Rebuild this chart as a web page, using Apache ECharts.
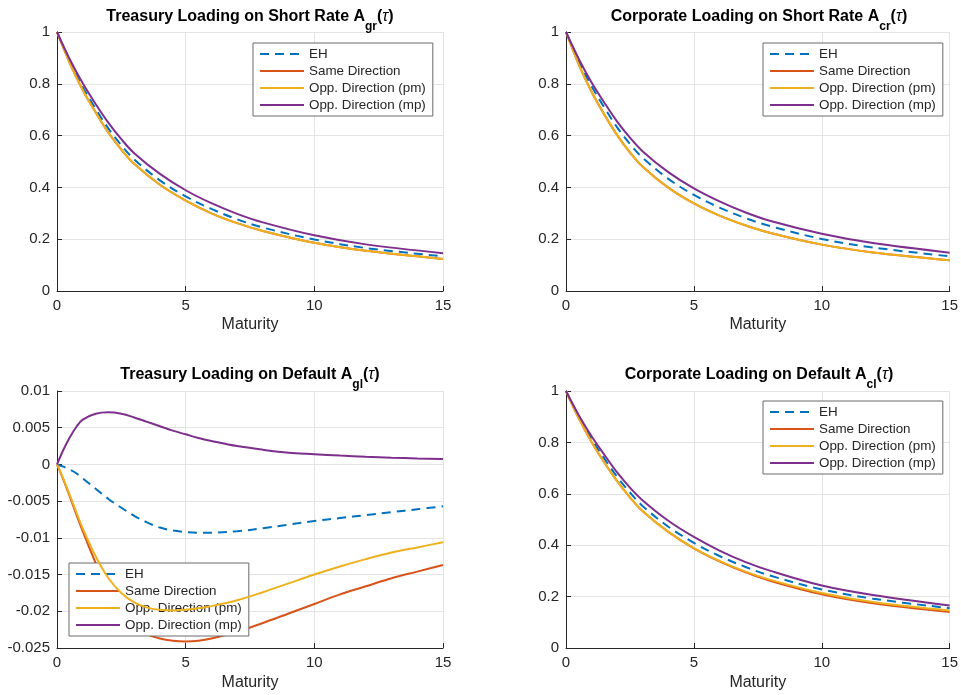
<!DOCTYPE html>
<html>
<head>
<meta charset="utf-8">
<script src="https://cdn.jsdelivr.net/npm/echarts@6/dist/echarts.min.js"></script>
<style>
  html, body { margin: 0; padding: 0; background: #ffffff; }
  #chart { width: 961px; height: 695px; }
</style>
</head>
<body>
<div id="chart"></div>
<script>
// Maturity grids (years)
const tauShort = [0, 0.5, 1, 1.5, 2, 2.5, 3, 4, 5, 6, 7, 8, 10, 12, 15];
const tauDefault = [0, 0.25, 0.5, 0.75, 1, 1.5, 2, 2.5, 3, 3.5, 4, 4.5, 5, 5.5, 6, 7, 8, 9, 10, 11, 12, 13, 14, 15];

const seriesNames = ['EH', 'Same Direction', 'Opp. Direction (pm)', 'Opp. Direction (mp)'];

// Treasury loading on short rate A_gr
const grEH   = [1, 0.885, 0.787, 0.704, 0.627, 0.563, 0.508, 0.427, 0.365, 0.317, 0.277, 0.245, 0.199, 0.166, 0.134];
const grSame = [1, 0.879, 0.776, 0.69, 0.611, 0.546, 0.491, 0.41, 0.349, 0.3, 0.262, 0.232, 0.186, 0.155, 0.124];
const grPm   = [1, 0.879, 0.776, 0.69, 0.611, 0.546, 0.491, 0.41, 0.349, 0.3, 0.262, 0.232, 0.186, 0.155, 0.124];
const grMp   = [1, 0.894, 0.802, 0.722, 0.649, 0.586, 0.532, 0.452, 0.389, 0.339, 0.298, 0.265, 0.215, 0.18, 0.146];

// Corporate loading on short rate A_cr
const crEH   = [1, 0.887, 0.791, 0.708, 0.632, 0.568, 0.514, 0.433, 0.371, 0.322, 0.282, 0.25, 0.201, 0.168, 0.134];
const crSame = [1, 0.874, 0.769, 0.681, 0.602, 0.535, 0.48, 0.399, 0.338, 0.291, 0.254, 0.224, 0.179, 0.149, 0.119];
const crPm   = [1, 0.874, 0.769, 0.681, 0.602, 0.535, 0.48, 0.399, 0.338, 0.291, 0.254, 0.224, 0.179, 0.149, 0.119];
const crMp   = [1, 0.896, 0.805, 0.727, 0.654, 0.592, 0.539, 0.459, 0.396, 0.346, 0.304, 0.27, 0.221, 0.185, 0.148];

// Treasury loading on default A_gl
const glEH   = [0, -0.0003, -0.0007, -0.0012, -0.0019, -0.0033, -0.0047, -0.0059, -0.007, -0.0079, -0.0086, -0.009, -0.0092, -0.0093, -0.0093, -0.0091, -0.0087, -0.0082, -0.0077, -0.0073, -0.0069, -0.0065, -0.0061, -0.0057];
const glSame = [0, -0.0021, -0.0044, -0.0068, -0.0091, -0.0134, -0.0172, -0.02, -0.0219, -0.0231, -0.0237, -0.024, -0.0241, -0.024, -0.0237, -0.0228, -0.0216, -0.0203, -0.019, -0.0177, -0.0166, -0.0155, -0.0146, -0.0137];
const glPm   = [0, -0.002, -0.0042, -0.0065, -0.0087, -0.0125, -0.0155, -0.0175, -0.0188, -0.0195, -0.0198, -0.0199, -0.0198, -0.0196, -0.0193, -0.0185, -0.0174, -0.0162, -0.015, -0.0139, -0.0129, -0.012, -0.0113, -0.0106];
const glMp   = [0, 0.002, 0.0037, 0.0051, 0.0061, 0.0069, 0.0071, 0.0069, 0.0064, 0.0058, 0.0052, 0.0046, 0.0041, 0.0036, 0.0032, 0.0025, 0.002, 0.0016, 0.0014, 0.0012, 0.00105, 0.00092, 0.00082, 0.00073];

// Corporate loading on default A_cl
const clEH   = [1, 0.9, 0.813, 0.737, 0.666, 0.605, 0.552, 0.472, 0.409, 0.358, 0.316, 0.281, 0.228, 0.192, 0.155];
const clSame = [1, 0.894, 0.802, 0.722, 0.649, 0.586, 0.532, 0.452, 0.388, 0.337, 0.295, 0.261, 0.209, 0.174, 0.14];
const clPm   = [1, 0.894, 0.802, 0.722, 0.649, 0.586, 0.532, 0.452, 0.389, 0.339, 0.298, 0.265, 0.214, 0.179, 0.146];
const clMp   = [1, 0.906, 0.824, 0.752, 0.683, 0.624, 0.574, 0.495, 0.432, 0.379, 0.335, 0.3, 0.243, 0.206, 0.165];

const FONT = '"Liberation Sans", Helvetica, Arial, sans-serif';
const INK = '#262626';
const colors = ['#0072BD', '#D95319', '#EDB120', '#7E2F8E'];

const panels = [
  { grid: { left: 57, top: 32, width: 386, height: 259 }, tau: tauShort,
    lines: [grEH, grSame, grPm, grMp], y: { min: 0, max: 1, interval: 0.2 },
    title: { x: 250, y: 9, main: 'Treasury Loading on Short Rate A', sub: 'gr' },
    legend: { left: 253, top: 43 } },
  { grid: { left: 566, top: 32, width: 387, height: 259 }, tau: tauShort,
    lines: [crEH, crSame, crPm, crMp], y: { min: 0, max: 1, interval: 0.2 },
    title: { x: 759, y: 9, main: 'Corporate Loading on Short Rate A', sub: 'cr' },
    legend: { left: 763, top: 43 } },
  { grid: { left: 57, top: 391, width: 386, height: 257 }, tau: tauDefault,
    lines: [glEH, glSame, glPm, glMp], y: { min: -0.025, max: 0.01, interval: 0.005 },
    title: { x: 250, y: 367, main: 'Treasury Loading on Default A', sub: 'gl' },
    legend: { left: 69, top: 563 } },
  { grid: { left: 566, top: 391, width: 387, height: 257 }, tau: tauShort,
    lines: [clEH, clSame, clPm, clMp], y: { min: 0, max: 1, interval: 0.2 },
    title: { x: 759, y: 367, main: 'Corporate Loading on Default A', sub: 'cl' },
    legend: { left: 763, top: 401 } }
];

const titleRich = {
  m: { fontFamily: FONT, fontSize: 16, fontWeight: 'bold', color: '#000', lineHeight: 18, verticalAlign: 'top' },
  s: { fontFamily: FONT, fontSize: 12, fontWeight: 'bold', color: '#000', lineHeight: 36 },
  t: { fontFamily: FONT, fontSize: 16, fontWeight: 'normal', fontStyle: 'italic', color: '#000', lineHeight: 18, verticalAlign: 'top' }
};

const option = {
  backgroundColor: '#ffffff',
  animation: false,
  title: panels.map(p => ({
    text: '{m|' + p.title.main + '}{s|' + p.title.sub + '}{m|(}{t|τ}{m|)}',
    left: p.title.x, top: p.title.y, textAlign: 'center', padding: 0,
    textStyle: { rich: titleRich }
  })),
  grid: panels.map(p => Object.assign({ containLabel: false }, p.grid)),
  xAxis: panels.map((p, i) => ({
    type: 'value', gridIndex: i, min: 0, max: 15, interval: 5,
    name: 'Maturity', nameLocation: 'middle', nameGap: i < 2 ? 26 : 27,
    nameTextStyle: { fontFamily: FONT, fontSize: 16, color: INK },
    axisLine: { show: true, onZero: false, lineStyle: { color: INK, width: 1 } },
    axisTick: { show: true, inside: true, length: 5, lineStyle: { color: INK } },
    axisLabel: { fontFamily: FONT, fontSize: 15, color: INK, margin: 7 },
    splitLine: { show: true, lineStyle: { color: '#e3e3e3', width: 1 } }
  })),
  yAxis: panels.map((p, i) => ({
    type: 'value', gridIndex: i, min: p.y.min, max: p.y.max, interval: p.y.interval,
    axisLine: { show: true, onZero: false, lineStyle: { color: INK, width: 1 } },
    axisTick: { show: true, inside: true, length: 5, lineStyle: { color: INK } },
    axisLabel: { fontFamily: FONT, fontSize: 15, color: INK, margin: 7 },
    splitLine: { show: true, lineStyle: { color: '#e3e3e3', width: 1 } }
  })),
  legend: panels.map(p => ({
    left: p.legend.left, top: p.legend.top, orient: 'vertical',
    data: seriesNames, selectedMode: false,
    itemWidth: 44, itemHeight: 14, itemGap: 3,
    padding: [4, 7, 4, 6],
    itemStyle: { opacity: 0 },
    backgroundColor: '#ffffff', borderColor: '#6a6a6a', borderWidth: 1, borderRadius: 0,
    textStyle: { fontFamily: FONT, fontSize: 13.4, color: INK, lineHeight: 14 }
  })),
  series: []
};

panels.forEach((p, i) => {
  p.lines.forEach((vals, k) => {
    option.series.push({
      type: 'line', name: seriesNames[k], xAxisIndex: i, yAxisIndex: i,
      data: p.tau.map((t, j) => [t, vals[j]]),
      showSymbol: false, symbol: 'none', smooth: 0.35,
      color: colors[k],
      lineStyle: { color: colors[k], width: 2, type: k === 0 ? [9, 6] : 'solid' },
      z: 2 + k
    });
  });
});

const chart = echarts.init(document.getElementById('chart'), null, { renderer: 'canvas' });
chart.setOption(option);
</script>
</body>
</html>
